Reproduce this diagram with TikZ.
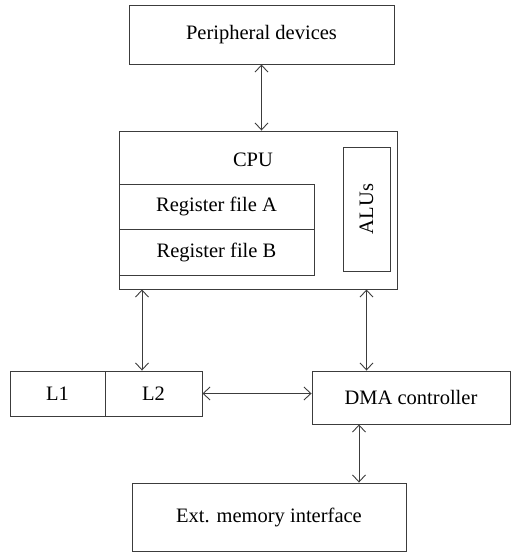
\documentclass[tikz,border=0pt]{standalone}
\usepackage{fontspec}
\setmainfont{Liberation Serif}
\usepackage{tikz}
\usetikzlibrary{arrows.meta,positioning,calc}

\definecolor{linegray}{HTML}{3C3C3C}

\begin{document}
\begin{tikzpicture}[
    x=1pt, y=-1pt,
    blk/.style={draw=linegray, line width=0.9pt, inner sep=0pt, align=center, font=\fontsize{20.5}{24}\selectfont},
    arr/.style={{Straight Barb[length=7pt, width=13pt]}-{Straight Barb[length=7pt, width=13pt]}, draw=linegray, line width=0.9pt},
    txt/.style={inner sep=0pt, font=\fontsize{20.5}{24}\selectfont}
]
\useasboundingbox (0,0) rectangle (511,552);

\node[blk, minimum width=265pt, minimum height=59pt] (periph) at (261.5,34.5) {Peripheral devices};
\node[blk, minimum width=278pt, minimum height=158pt] (cpu) at (258,210) {};
\node[txt] (cpulbl) at (253,160) {CPU};
\node[blk, minimum width=195pt, minimum height=45pt] (rega) at (216.5,206.5) {Register file A};
\node[blk, minimum width=195pt, minimum height=46pt] (regb) at (216.5,252) {Register file B};
\node[blk, minimum width=47pt, minimum height=124pt] (alus) at (366.5,209) {\rotatebox{90}{ALUs}};
\node[blk, minimum width=95pt, minimum height=45pt] (l1) at (57.5,393.5) {L1};
\node[blk, minimum width=97pt, minimum height=45pt] (l2) at (153.5,393.5) {L2};
\node[blk, minimum width=198pt, minimum height=53pt] (dma) at (411,397.5) {DMA controller};
\node[blk, minimum width=274pt, minimum height=68pt] (ext) at (269,517) {Ext. memory interface};

\draw[arr] (periph.south) -- (periph.south |- cpu.north);
\draw[arr] ([xshift=-11.5pt]l2.north |- cpu.south) -- ([xshift=-11.5pt]l2.north);
\draw[arr] (alus |- cpu.south) -- (alus |- dma.north);
\draw[arr] (l2.east) -- (l2.east -| dma.west);
\draw[arr] ([xshift=-52pt]dma.south) -- ([xshift=-52pt]dma.south |- ext.north);
\end{tikzpicture}
\end{document}
